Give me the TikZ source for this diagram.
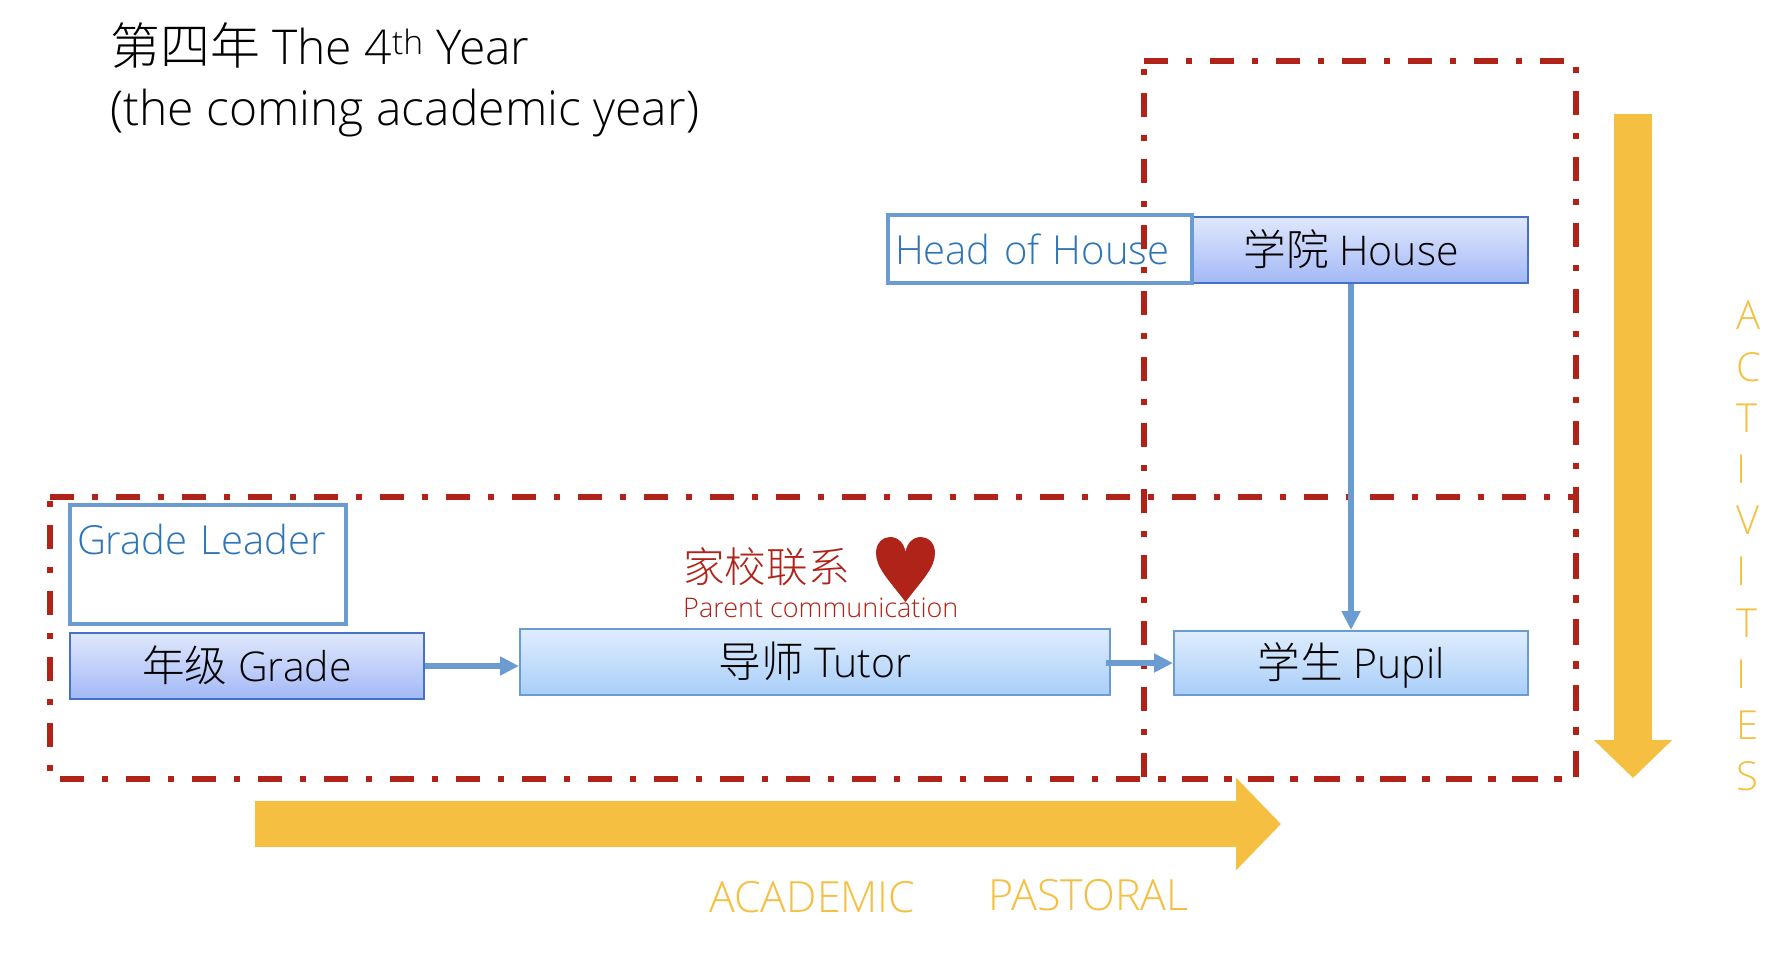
\documentclass[tikz,border=0pt]{standalone}
\usepackage{fontspec}
\setmainfont{Open Sans}[UprightFont=* Light]
\newfontfamily\cjk{Noto Sans CJK SC}[UprightFont=* Light,Scale=1.04]
\usetikzlibrary{arrows.meta}
\definecolor{redline}{HTML}{B02318}
\definecolor{bluetext}{HTML}{2E75B6}
\definecolor{blueline}{HTML}{6A9BD1}
\definecolor{darkline}{HTML}{4472C4}
\definecolor{gold}{HTML}{F5BF42}
\definecolor{darktop}{HTML}{E0E8FD}
\definecolor{darkbottom}{HTML}{A3B8F6}
\definecolor{lighttop}{HTML}{DFEDFD}
\definecolor{lightbottom}{HTML}{A9CEF9}
\tikzset{
  box/.style={draw,minimum height=66pt,inner ysep=0pt,inner xsep=0pt,line width=2pt,text height=35pt,text depth=5pt,font=\fontsize{41pt}{49pt}\selectfont},
  darkbox/.style={box,draw=darkline,top color=darktop,bottom color=darkbottom},
  lightbox/.style={box,draw=blueline,top color=lighttop,bottom color=lightbottom},
  namebox/.style={draw=blueline,line width=4pt,fill=white,inner ysep=0pt,inner xsep=7pt,align=left,text=bluetext,font=\fontsize{40pt}{48pt}\selectfont},
  redbox/.style={draw=redline,line width=5.5pt,dash pattern=on 24pt off 18pt on 6pt off 18pt},
  thin arrow/.style={draw=blueline,line width=6pt,-{Triangle[length=19pt,width=18pt]}},
  gold arrow/.style 2 args={draw=gold,-{Triangle[length=#1pt,width=#2pt]}},
  tag/.style={anchor=base west,inner sep=0pt,text=gold,font=\fontsize{43pt}{51pt}\selectfont}
}
\begin{document}
\begin{tikzpicture}[x=1pt,y=-1pt]
\useasboundingbox (0,0) rectangle (1776,966);
% title
\node (Title) [anchor=base west,inner sep=0pt,align=left,font=\fontsize{48pt}{61pt}\selectfont] at (110,125) {{\cjk 第四年} The 4\textsuperscript{th} Year\\(the coming academic year)};
% boxes
\node (House) [darkbox,minimum width=354pt] at (1351,250) {{\cjk 学院} House};
\node (Head) [namebox,text width=290pt,text height=49pt,text depth=19pt] at (1040,249) {Head of House};
\node (Leader) [namebox,text width=262pt,text height=49pt,text depth=70pt] at (208,564.5) {Grade Leader};
\node (Grade) [darkbox,minimum width=354pt] at (247,666) {{\cjk 年级} Grade};
\node (Tutor) [lightbox,minimum width=590pt] at (815,662) {{\cjk 导师} Tutor};
\node (Pupil) [lightbox,minimum width=354pt,minimum height=64pt] at (1351,663) {{\cjk 学生} Pupil};
% dashed areas
\draw [redbox] (50,497) -- (1576,497) -- (1576,779) -- (50,779) -- cycle;
\draw [redbox] (1144,61) -- (1576,61) -- (1576,779) -- (1144,779) -- cycle;
% links
\draw [thin arrow] (Grade) -- (Grade -| Tutor.west);
\draw [thin arrow] ([xshift=-5pt]Tutor.east |- Pupil.west) -- (Pupil.west);
\draw [thin arrow,line width=5.5pt] (House) -- (Pupil);
% heart
\fill [redline] (905.5,602) .. controls (889,580) and (876,568) .. (876,553) .. controls (876,543) and (883,537) .. (890,537) .. controls (898,537) and (904,543) .. (905.5,552) .. controls (907,543) and (913,537) .. (921,537) .. controls (928,537) and (935,543) .. (935,553) .. controls (935,568) and (922,580) .. (905.5,602);
\node (Parent) [tag,text=redline,font=\fontsize{40pt}{48pt}\selectfont] at (683,582) {\cjk 家校联系};
\node (Comm) [tag,text=redline,font=\fontsize{27pt}{31pt}\selectfont] at (683,617) {Parent communication};
% big arrows
\coordinate (AS) at (255,824);
\coordinate (AE) at (1281,824);
\coordinate (BS) at (1633,114);
\coordinate (BE) at (1633,778);
\draw [gold arrow={45}{90},line width=46pt] (AS) -- (AE);
\draw [gold arrow={38}{76},line width=38pt] (BS) -- (BE);
\node (Academic) [tag] at (709,912) {ACADEMIC};
\node (Pastoral) [tag] at (988,910) {PASTORAL};
\node (Activities) [anchor=north west,inner sep=0pt,align=left,text=gold,font=\fontsize{40pt}{51.2pt}\selectfont] at (1736,301) {A\\C\\T\\I\\V\\I\\T\\I\\E\\S};
\end{tikzpicture}
\end{document}
